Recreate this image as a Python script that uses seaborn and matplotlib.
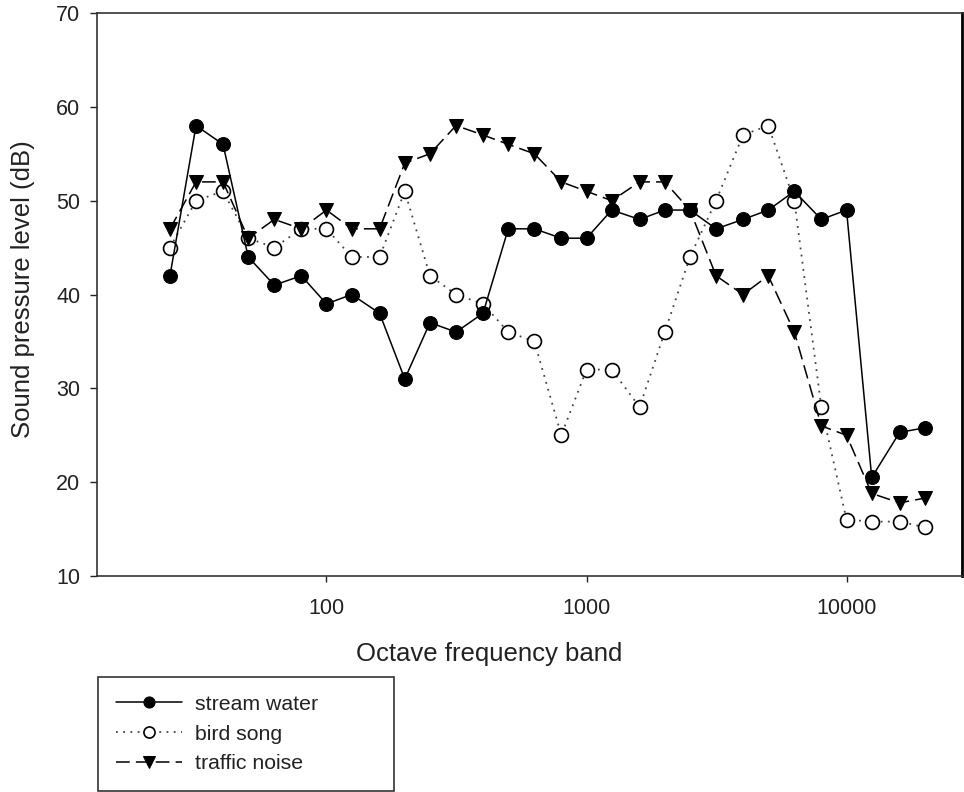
import numpy as np
import pandas as pd
import seaborn as sns
import matplotlib.pyplot as plt
from matplotlib.ticker import FixedLocator, NullLocator, FuncFormatter

# 1/3 octave band centre frequencies (Hz)
freqs = [25, 31.5, 40, 50, 63, 80, 100, 125, 160, 200, 250, 315, 400, 500, 630,
         800, 1000, 1250, 1600, 2000, 2500, 3150, 4000, 5000, 6300, 8000, 10000,
         12500, 16000, 20000]

stream_water = [42, 58, 56, 44, 41, 42, 39, 40, 38, 31, 37, 36, 38, 47, 47,
                46, 46, 49, 48, 49, 49, 47, 48, 49, 51, 48, 49,
                20.5, 25.3, 25.8]
bird_song = [45, 50, 51, 46, 45, 47, 47, 44, 44, 51, 42, 40, 39, 36, 35,
             25, 32, 32, 28, 36, 44, 50, 57, 58, 50, 28, 16,
             15.8, 15.8, 15.2]
traffic_noise = [47, 52, 52, 46, 48, 47, 49, 47, 47, 54, 55, 58, 57, 56, 55,
                 52, 51, 50, 52, 52, 49, 42, 40, 42, 36, 26, 25,
                 18.8, 17.8, 18.3]

y_ticks = [10, 20, 30, 40, 50, 60, 70]
x_ticks = [100, 1000, 10000]

sns.set_style('ticks')
plt.rcParams['font.family'] = ['Liberation Sans', 'DejaVu Sans']

fig = plt.figure(figsize=(9.64, 7.92), dpi=100)
ax = fig.add_axes([0.1006, 0.2727, 0.8973, 0.7109])

df = pd.DataFrame({'freq': freqs, 'stream': stream_water,
                   'bird': bird_song, 'traffic': traffic_noise})

sns.lineplot(data=df, x='freq', y='bird', ax=ax, color='#444444', linewidth=1.3,
             linestyle=(0, (1, 3)), marker='o', markersize=10,
             markerfacecolor='white', markeredgecolor='black', markeredgewidth=1.2,
             label='bird song')
sns.lineplot(data=df, x='freq', y='traffic', ax=ax, color='black', linewidth=1.1,
             linestyle=(0, (9, 4)), marker='v', markersize=10.5,
             markerfacecolor='black', markeredgecolor='black',
             label='traffic noise')
sns.lineplot(data=df, x='freq', y='stream', ax=ax, color='black', linewidth=1.1,
             marker='o', markersize=10, markerfacecolor='black',
             markeredgecolor='black', label='stream water')

ax.set_xscale('log')
ax.set_xlim(13.1, 27800)
ax.set_ylim(10, 70)
ax.xaxis.set_major_locator(FixedLocator(x_ticks))
ax.xaxis.set_minor_locator(NullLocator())
ax.xaxis.set_major_formatter(FuncFormatter(lambda v, p: f'{int(v)}'))
ax.set_yticks(y_ticks)

ax.tick_params(axis='x', direction='out', length=4.5, width=1, pad=11,
               labelsize=15.5, colors='#222222')
ax.tick_params(axis='y', direction='out', length=5, width=1, pad=7,
               labelsize=15.5, colors='#222222')

for side in ['left', 'bottom', 'top']:
    ax.spines[side].set_color('#333333')
    ax.spines[side].set_linewidth(1.2)
ax.spines['right'].set_color('black')
ax.spines['right'].set_linewidth(2)

ax.set_xlabel('Octave frequency band', fontsize=18.5, color='#222222')
ax.set_ylabel('Sound pressure level (dB)', fontsize=18.5, color='#222222')
ax.xaxis.set_label_coords(0.453, -0.118)
ax.yaxis.set_label_coords(-0.072, 0.51)

handles, labels = ax.get_legend_handles_labels()
if ax.get_legend() is not None:
    ax.get_legend().remove()
order = [labels.index(l) for l in ['stream water', 'bird song', 'traffic noise']]
leg = fig.legend([handles[i] for i in order], [labels[i] for i in order],
                 loc='lower left', bbox_to_anchor=(0.1017, 0.001, 0.307, 0.146),
                 mode='expand', frameon=True, fancybox=False, fontsize=15.3,
                 handlelength=3.1, handletextpad=0.6, labelspacing=0.5,
                 borderpad=0.85, borderaxespad=0, markerscale=0.8)
leg.get_frame().set_edgecolor('black')
leg.get_frame().set_linewidth(1.2)
for t in leg.get_texts():
    t.set_color('#222222')

fig.savefig('out.png', dpi=100)
